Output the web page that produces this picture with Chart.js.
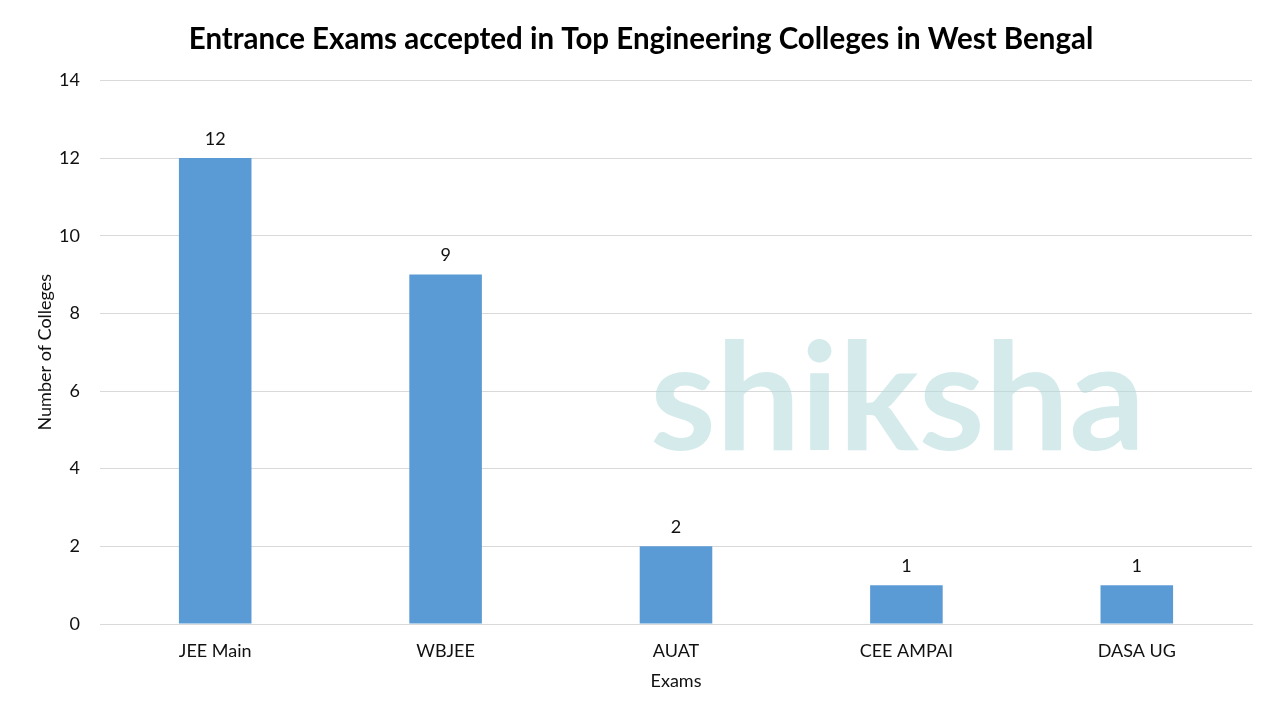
<!DOCTYPE html>
<html>
<head>
<meta charset="utf-8">
<script src="https://cdn.jsdelivr.net/npm/chart.js@4/dist/chart.umd.min.js"></script>
<style>
  html, body { margin: 0; padding: 0; background: #fff; }
  #wrap { width: 1280px; height: 720px; }
</style>
</head>
<body>
<div id="wrap"><canvas id="examChart" width="1280" height="720"></canvas></div>
<script>
// Chart data
const exams = ['JEE Main', 'WBJEE', 'AUAT', 'CEE AMPAI', 'DASA UG'];
const collegeCounts = [12, 9, 2, 1, 1];
const yTicks = [0, 2, 4, 6, 8, 10, 12, 14];

const fontFamily = 'Lato, "Open Sans", sans-serif';

// Faint watermark behind the bars
const watermark = {
    id: 'watermark',
    beforeDatasetsDraw(chart) {
        const ctx = chart.ctx;
        ctx.save();
        ctx.fillStyle = 'rgba(176, 216, 219, 0.55)';
        ctx.font = 'bold 150px ' + fontFamily;
        ctx.textBaseline = 'alphabetic';
        ctx.fillText('shiksha', 650, 450);
        ctx.restore();
    }
};

// Value labels above the bars
const valueLabels = {
    id: 'valueLabels',
    afterDatasetsDraw(chart) {
        const ctx = chart.ctx;
        const meta = chart.getDatasetMeta(0);
        ctx.save();
        ctx.fillStyle = '#111';
        ctx.font = '18px ' + fontFamily;
        ctx.textAlign = 'center';
        ctx.textBaseline = 'middle';
        meta.data.forEach((bar, i) => {
            ctx.fillText(collegeCounts[i], bar.x, bar.y - 19);
        });
        ctx.restore();
    }
};

const ctx = document.getElementById('examChart').getContext('2d');
new Chart(ctx, {
    type: 'bar',
    data: {
        labels: exams,
        datasets: [{
            data: collegeCounts,
            backgroundColor: '#5B9BD5',
            barPercentage: 0.315,
            categoryPercentage: 1
        }]
    },
    options: {
        responsive: false,
        animation: false,
        layout: { padding: { left: 30, right: 28, top: 0, bottom: 24 } },
        scales: {
            x: {
                grid: { display: false },
                border: { color: '#d9d9d9' },
                ticks: { color: '#111', font: { family: fontFamily, size: 18 }, padding: 8 },
                title: { display: true, text: 'Exams', color: '#111', font: { family: fontFamily, size: 18 }, padding: { top: 2 } },
                afterFit(scale) { scale.height = 72; }
            },
            y: {
                min: 0,
                max: 14,
                afterBuildTicks(scale) { scale.ticks = yTicks.map(v => ({ value: v })); },
                grid: { color: '#d9d9d9', drawTicks: false },
                border: { display: false },
                ticks: { color: '#111', font: { family: fontFamily, size: 18 }, padding: 20 },
                title: { display: true, text: 'Number of Colleges', color: '#111', font: { family: fontFamily, size: 18 } },
                afterFit(scale) { scale.width = 70; }
            }
        },
        plugins: {
            legend: { display: false },
            tooltip: { enabled: false },
            title: {
                display: true,
                text: 'Entrance Exams accepted in Top Engineering Colleges in West Bengal',
                color: '#000',
                font: { family: fontFamily, size: 29.5, weight: 'bold' },
                padding: { top: 22, bottom: 23 }
            }
        }
    },
    plugins: [watermark, valueLabels]
});
</script>
</body>
</html>
